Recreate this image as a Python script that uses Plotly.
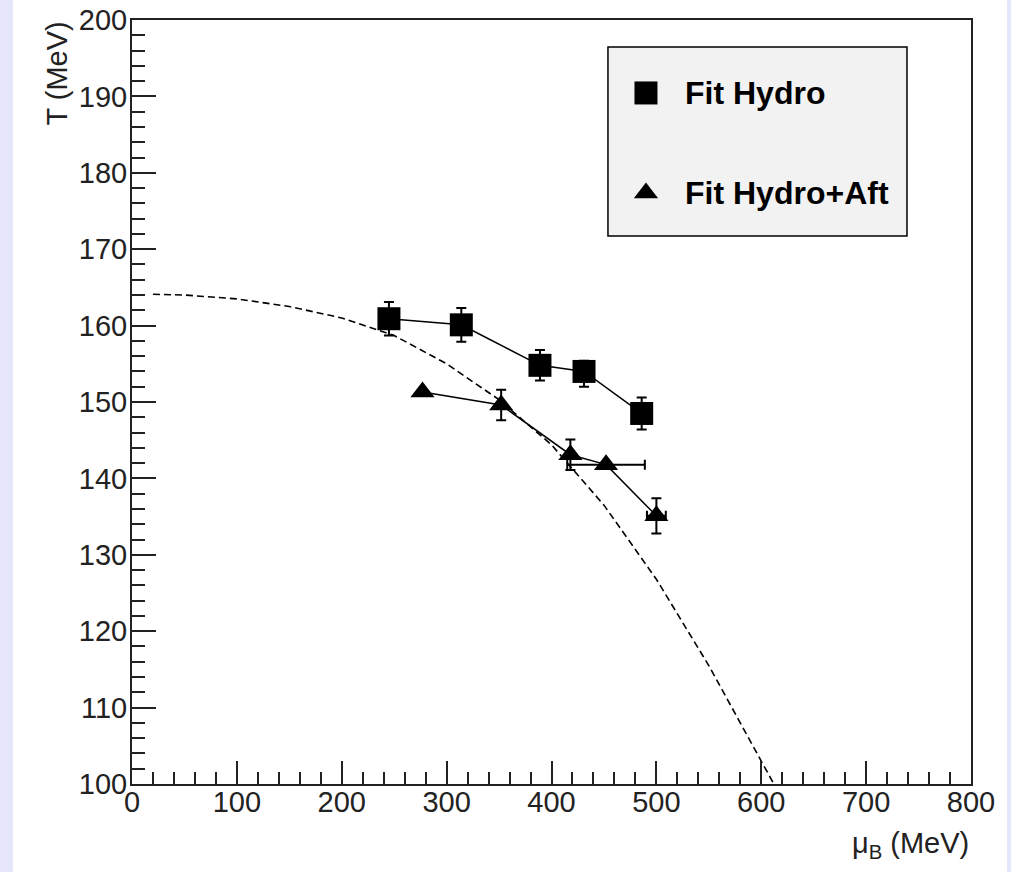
import plotly.graph_objects as go

# Freeze-out temperatures extracted from the two fit variants
mu_hydro = [245, 314, 389, 431, 486]
T_hydro = [160.9, 160.1, 154.8, 154.0, 148.5]
T_hydro_err_up = [2.2, 2.2, 2.0, 1.4, 2.1]
T_hydro_err_dn = [2.2, 2.2, 2.0, 2.0, 2.1]

mu_aft = [277, 352, 418, 452, 500]
T_aft = [151.3, 149.6, 143.1, 141.8, 135.1]
T_aft_err = [0, 2.0, 2.0, 0, 2.3]
mu_aft_err = [0, 0, 0, 37, 9]

# Chemical freeze-out line
mu_curve = [20, 50, 100, 150, 200, 250, 300, 350, 400, 450, 500, 550, 600, 612]
T_curve = [164.1, 164.0, 163.5, 162.5, 161.0, 158.7, 155.0, 150.3, 144.4, 136.5,
           126.8, 115.5, 103.0, 100.0]

series_names = ["Fit Hydro", "Fit Hydro+Aft"]
x_ticks = list(range(0, 801, 100))
y_ticks = list(range(100, 201, 10))

FONT = "Liberation Sans"
INK = "#222222"

fig = go.Figure()

fig.add_trace(go.Scatter(
    x=mu_curve, y=T_curve, mode="lines",
    line=dict(color="black", width=1.6, dash="7px,4px"),
    showlegend=False, hoverinfo="skip",
))

fig.add_trace(go.Scatter(
    x=mu_hydro, y=T_hydro, mode="lines+markers", name=series_names[0],
    line=dict(color="black", width=1.5),
    marker=dict(symbol="square", size=23, color="black"),
    error_y=dict(type="data", symmetric=False, array=T_hydro_err_up,
                 arrayminus=T_hydro_err_dn, width=5, thickness=2, color="black"),
    showlegend=False,
))

fig.add_trace(go.Scatter(
    x=mu_aft, y=T_aft, mode="lines+markers", name=series_names[1],
    line=dict(color="black", width=1.5),
    marker=dict(symbol="triangle-up", size=21, color="black"),
    error_y=dict(type="data", array=T_aft_err, width=5, thickness=2, color="black"),
    error_x=dict(type="data", array=mu_aft_err, width=5, thickness=2, color="black"),
    showlegend=False,
))

# Legend box content on an overlay axis spanning the plot area
leg_x_mark = 0.6126
leg_x_text = 0.6567
leg_y = [0.9045, 0.7736]
fig.add_trace(go.Scatter(
    x=[leg_x_mark], y=[leg_y[0]], xaxis="x2", yaxis="y2", mode="markers",
    marker=dict(symbol="square", size=23, color="black"),
    showlegend=False, hoverinfo="skip",
))
fig.add_trace(go.Scatter(
    x=[leg_x_mark], y=[leg_y[1]], xaxis="x2", yaxis="y2", mode="markers",
    marker=dict(symbol="triangle-up", size=21, color="black"),
    showlegend=False, hoverinfo="skip",
))

axis_common = dict(
    ticks="inside", tickwidth=2, tickcolor=INK,
    showline=True, linecolor=INK, linewidth=2, mirror=True,
    showgrid=False, zeroline=False, automargin=False,
    tickfont=dict(family=FONT, size=29, color=INK),
)

fig.update_layout(
    width=1011, height=872,
    margin=dict(l=132, r=40, t=20, b=88),
    paper_bgcolor="white", plot_bgcolor="white",
    xaxis=dict(range=[0, 800], tickvals=x_ticks, ticklen=23,
               ticklabelstandoff=-9,
               minor=dict(dtick=20, ticks="inside", ticklen=12, tickwidth=2,
                          tickcolor=INK, showgrid=False),
               **axis_common),
    yaxis=dict(range=[100, 200], tickvals=y_ticks, ticklen=24,
               ticklabelstandoff=-3,
               minor=dict(dtick=2, ticks="inside", ticklen=13, tickwidth=2,
                          tickcolor=INK, showgrid=False),
               **axis_common),
    xaxis2=dict(range=[0, 1], overlaying="x", visible=False, automargin=False),
    yaxis2=dict(range=[0, 1], overlaying="y", visible=False, automargin=False),
    showlegend=False,
    shapes=[
        # side strips of the canvas
        dict(type="rect", xref="paper", yref="paper", x0=-0.1573, x1=-0.1418,
             y0=-0.1152, y1=1.0262, fillcolor="#e6e6fa", line=dict(width=0),
             layer="below"),
        dict(type="rect", xref="paper", yref="paper", x0=1.0429, x1=1.06,
             y0=-0.1152, y1=1.0262, fillcolor="#e6e6fa", line=dict(width=0),
             layer="below"),
        # legend frame
        dict(type="rect", xref="paper", yref="paper", x0=0.5673, x1=0.9237,
             y0=0.7173, y1=0.9647, fillcolor="#f2f2f2",
             line=dict(color="black", width=1.5), layer="below"),
    ],
    annotations=[
        dict(text="<b>" + series_names[0] + "</b>", x=leg_x_text, y=leg_y[0],
             xref="paper", yref="paper", xanchor="left", yanchor="middle",
             showarrow=False, font=dict(family=FONT, size=32, color="black")),
        dict(text="<b>" + series_names[1] + "</b>", x=leg_x_text, y=leg_y[1],
             xref="paper", yref="paper", xanchor="left", yanchor="middle",
             showarrow=False, font=dict(family=FONT, size=32, color="black")),
        dict(text="T (MeV)", textangle=-90, x=-0.0894, y=0.93,
             xref="paper", yref="paper", xanchor="center", yanchor="middle",
             showarrow=False, font=dict(family=FONT, size=29, color=INK)),
        dict(text="μ<sub>B</sub> (MeV)", x=1.0, y=-0.0798,
             xref="paper", yref="paper", xanchor="right", yanchor="middle",
             showarrow=False, font=dict(family=FONT, size=29, color=INK)),
    ],
)

fig.write_html("out.html")
